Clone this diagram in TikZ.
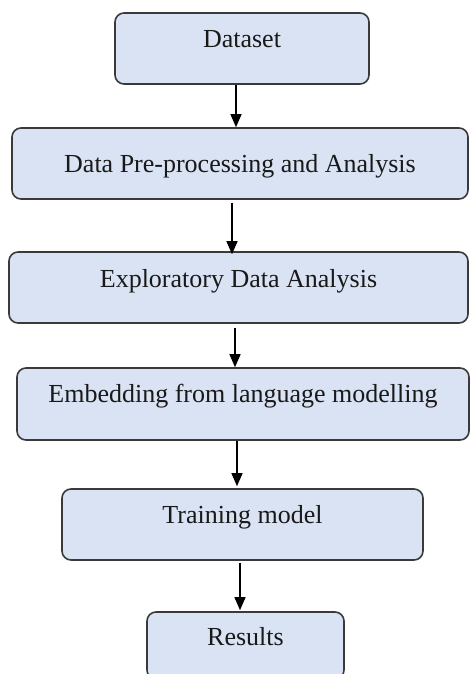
\documentclass[tikz,border=0pt]{standalone}
\usepackage{fontspec}
\setmainfont{Liberation Serif}
\usetikzlibrary{arrows.meta}
\definecolor{boxfill}{HTML}{DAE3F3}
\definecolor{boxline}{HTML}{3A3A3A}
\tikzset{
  stepbox/.style={draw=boxline, line width=1.6pt, fill=boxfill, rounded corners=9pt,
    inner sep=0pt, anchor=base, align=center,
    font=\fontsize{26}{30}\selectfont, text=black!90},
  arr/.style={line width=1.3pt, -{Triangle[length=13pt,width=11pt]}}
}
\begin{document}
\begin{tikzpicture}[x=1pt,y=-1pt]
\clip (0,0) rectangle (470,674);
\useasboundingbox (0,0) rectangle (470,674);
\node[stepbox, minimum width=254pt, text height=35pt, text depth=36pt] (b1) at (242,48) {Dataset};
\node[stepbox, minimum width=456pt, text height=44pt, text depth=27pt] (b2) at (240,172) {Data Pre-processing and Analysis};
\node[stepbox, minimum width=459pt, text height=35pt, text depth=36pt] (b3) at (238.5,287) {Exploratory Data Analysis};
\node[stepbox, minimum width=452pt, text height=34pt, text depth=38pt] (b4) at (243,402) {Embedding from language modelling};
\node[stepbox, minimum width=361pt, text height=34pt, text depth=37pt] (b5) at (242.5,523) {Training model};
\node[stepbox, minimum width=197pt, text height=33pt, text depth=34pt] (b6) at (245.5,645) {Results};
\draw[arr] ([xshift=-6pt]b1.south) -- ([xshift=-6pt]b1.south |- b2.north);
\draw[arr] ([xshift=-8pt,yshift=-3pt]b2.south) -- ([xshift=-8pt,yshift=-3pt]b2.south |- b3.north);
\draw[arr] ([xshift=-3.5pt,yshift=-4pt]b3.south) -- ([xshift=-3.5pt]b3.south |- b4.north);
\draw[arr] ([xshift=-6pt]b4.south) -- ([xshift=-6pt,yshift=2pt]b4.south |- b5.north);
\draw[arr] ([xshift=-2.5pt,yshift=-2pt]b5.south) -- ([xshift=-2.5pt,yshift=1pt]b5.south |- b6.north);
\end{tikzpicture}
\end{document}
